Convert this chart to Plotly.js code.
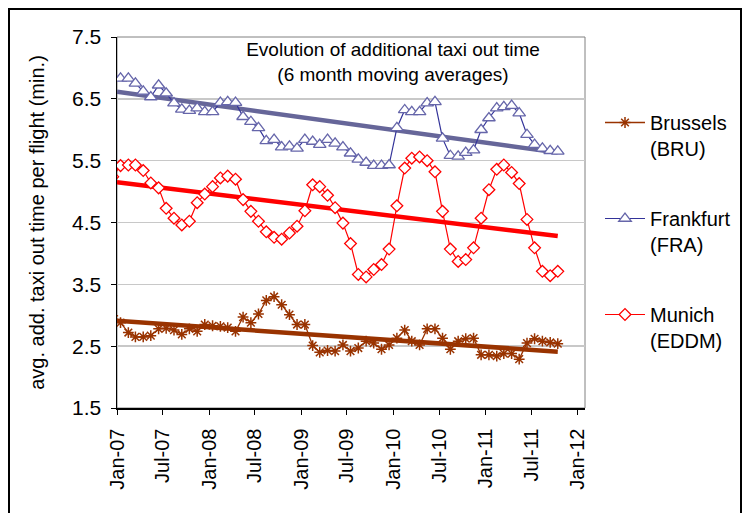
<!DOCTYPE html>
<html>
<head>
<meta charset="utf-8">
<script src="https://cdn.plot.ly/plotly-3.0.1.min.js"></script>
<style>
html,body{margin:0;padding:0;background:#fff;}
#chart{width:751px;height:513px;}
</style>
</head>
<body>
<div id="chart"></div>
<script>
// Monthly 6-month moving averages, plotted mid-month (first point Dec-06, clipped by axis)
const nPoints = 59;
const months = [];
for (let i = 0; i < nPoints; i++) {
  const y = 2006 + Math.floor((11 + i) / 12);
  const m = ((11 + i) % 12) + 1;
  months.push(y + '-' + String(m).padStart(2, '0') + '-15');
}

const brussels = [2.99, 2.88, 2.72, 2.65, 2.65, 2.67, 2.78, 2.79, 2.76, 2.69, 2.78,
  2.74, 2.85, 2.83, 2.82, 2.80, 2.74, 2.97, 2.88, 3.02, 3.24,
  3.30, 3.17, 3.01, 2.85, 2.85, 2.51, 2.40, 2.43, 2.42, 2.52,
  2.42, 2.47, 2.58, 2.55, 2.45, 2.52, 2.63, 2.76, 2.58, 2.52,
  2.78, 2.78, 2.63, 2.45, 2.58, 2.62, 2.63, 2.36, 2.36, 2.34,
  2.38, 2.38, 2.29, 2.55, 2.62, 2.58, 2.56, 2.54];

const frankfurt = [6.87, 6.83, 6.83, 6.75, 6.62, 6.53, 6.72, 6.59, 6.43, 6.33, 6.31,
  6.35, 6.29, 6.29, 6.44, 6.45, 6.44, 6.21, 6.13, 6.03, 5.82,
  5.84, 5.72, 5.73, 5.70, 5.84, 5.81, 5.76, 5.84, 5.78, 5.72,
  5.62, 5.52, 5.47, 5.42, 5.42, 5.43, 6.03, 6.32, 6.29, 6.29,
  6.43, 6.45, 5.86, 5.58, 5.57, 5.63, 5.67, 6.00, 6.19, 6.35,
  6.37, 6.39, 6.27, 5.92, 5.76, 5.70, 5.66, 5.65];

const munich = [5.24, 5.42, 5.43, 5.43, 5.34, 5.14, 5.06, 4.73, 4.57, 4.46, 4.52,
  4.82, 4.96, 5.08, 5.22, 5.25, 5.20, 4.87, 4.68, 4.52, 4.35,
  4.26, 4.23, 4.33, 4.44, 4.69, 5.11, 5.08, 4.94, 4.74, 4.49,
  4.16, 3.66, 3.62, 3.74, 3.82, 4.07, 4.77, 5.38, 5.54, 5.56,
  5.50, 5.32, 4.68, 4.07, 3.87, 3.90, 4.09, 4.57, 5.03, 5.36,
  5.43, 5.31, 5.13, 4.55, 4.09, 3.71, 3.64, 3.71];

// linear trend end points
const trendDates = ['2007-01-01', '2011-10-15'];
const bruTrend = [2.91, 2.41];
const fraTrend = [6.615, 5.63];
const mucTrend = [5.15, 4.28];

const tickVals = ['2007-01-01','2007-07-01','2008-01-01','2008-07-01','2009-01-01','2009-07-01',
  '2010-01-01','2010-07-01','2011-01-01','2011-07-01','2012-01-01'];
const tickText = ['Jan-07','Jul-07','Jan-08','Jul-08','Jan-09','Jul-09','Jan-10','Jul-10','Jan-11','Jul-11','Jan-12'];
const yTicks = [1.5, 2.5, 3.5, 4.5, 5.5, 6.5, 7.5];

const FONT = 'Liberation Sans, Arial, sans-serif';
const cBru = '#993300', cFra = '#333399', cFraM = '#6666aa', cFraT = '#666699', cMuc = '#ff0000';

const traces = [
  {x: trendDates, y: bruTrend, mode: 'lines', line: {color: cBru, width: 4.5}, showlegend: false, hoverinfo: 'skip'},
  {x: trendDates, y: fraTrend, mode: 'lines', line: {color: cFraT, width: 4.5}, showlegend: false, hoverinfo: 'skip'},
  {x: trendDates, y: mucTrend, mode: 'lines', line: {color: cMuc, width: 4.5}, showlegend: false, hoverinfo: 'skip'},
  {x: months, y: brussels, name: 'Brussels<br>(BRU)', mode: 'lines+markers', legendgroup: 'a',
   line: {color: cBru, width: 1.3},
   marker: {symbol: 'asterisk-open', size: 9, color: cBru, line: {color: cBru, width: 1.5}}},
  {x: months, y: frankfurt, name: 'Frankfurt<br>(FRA)', mode: 'lines+markers', legendgroup: 'b',
   line: {color: cFra, width: 1.2},
   marker: {symbol: 'triangle-up', size: 11, color: '#ffffff', line: {color: cFraM, width: 1.3}}},
  {x: months, y: munich, name: 'Munich<br>(EDDM)', mode: 'lines+markers', legendgroup: 'c',
   line: {color: cMuc, width: 1.2},
   marker: {symbol: 'diamond', size: 9, color: '#ffffff', line: {color: cMuc, width: 1.3}}}
];

const L = 117, R = 585, T = 37, B = 408;
const pw = R - L, ph = B - T;
const px = v => (v - L) / pw;
const py = v => (B - v) / ph;

const layout = {
  width: 751, height: 513,
  margin: {l: L, r: 751 - R, t: T, b: 513 - B, pad: 0},
  paper_bgcolor: '#ffffff', plot_bgcolor: '#ffffff',
  font: {family: FONT, color: '#000000', size: 20},
  title: {text: 'Evolution of additional taxi out time<br>(6 month moving averages)',
    font: {family: FONT, size: 19, color: '#000'}, x: 393 / 751, xanchor: 'center',
    y: 1 - 56 / 513, yanchor: 'middle', xref: 'container', yref: 'container'},
  xaxis: {type: 'date', range: ['2007-01-01', '2012-01-31'], tickvals: tickVals, ticktext: tickText,
    tickangle: -90, ticks: 'outside', ticklen: 5, tickcolor: '#000', showgrid: false,
    showline: true, linecolor: '#000', linewidth: 1.5, zeroline: false, ticklabelstandoff: 6,
    tickfont: {family: FONT, size: 20}, fixedrange: true},
  yaxis: {range: [1.5, 7.5], tickvals: yTicks, ticktext: yTicks.map(v => v.toFixed(1)),
    ticks: 'outside', ticklen: 5, tickcolor: '#000', showgrid: true, gridcolor: '#c8c8c8', gridwidth: 1.5,
    showline: true, linecolor: '#000', linewidth: 1.5, zeroline: false, ticklabelstandoff: 5,
    tickfont: {family: FONT, size: 21},
    title: {text: 'avg. add. taxi out time per flight (min.)', font: {family: FONT, size: 20}, standoff: 22},
    fixedrange: true},
  legend: {x: px(600), xanchor: 'left', y: py(103), yanchor: 'top', valign: 'top',
    font: {family: FONT, size: 20}, tracegroupgap: 41, itemwidth: 40,
    bgcolor: 'rgba(0,0,0,0)', traceorder: 'grouped'},
  shapes: [
    {type: 'rect', xref: 'paper', yref: 'paper', x0: 0, x1: 1, y0: 0, y1: 1,
     line: {color: '#808080', width: 1}, fillcolor: 'rgba(0,0,0,0)', layer: 'below'},
    {type: 'rect', xref: 'paper', yref: 'paper', x0: px(9), x1: px(741), y0: py(560), y1: py(9),
     line: {color: '#000', width: 2}, fillcolor: 'rgba(0,0,0,0)'}
  ],
  showlegend: true
};

Plotly.newPlot('chart', traces, layout, {displayModeBar: false, staticPlot: true});
</script>
</body>
</html>
